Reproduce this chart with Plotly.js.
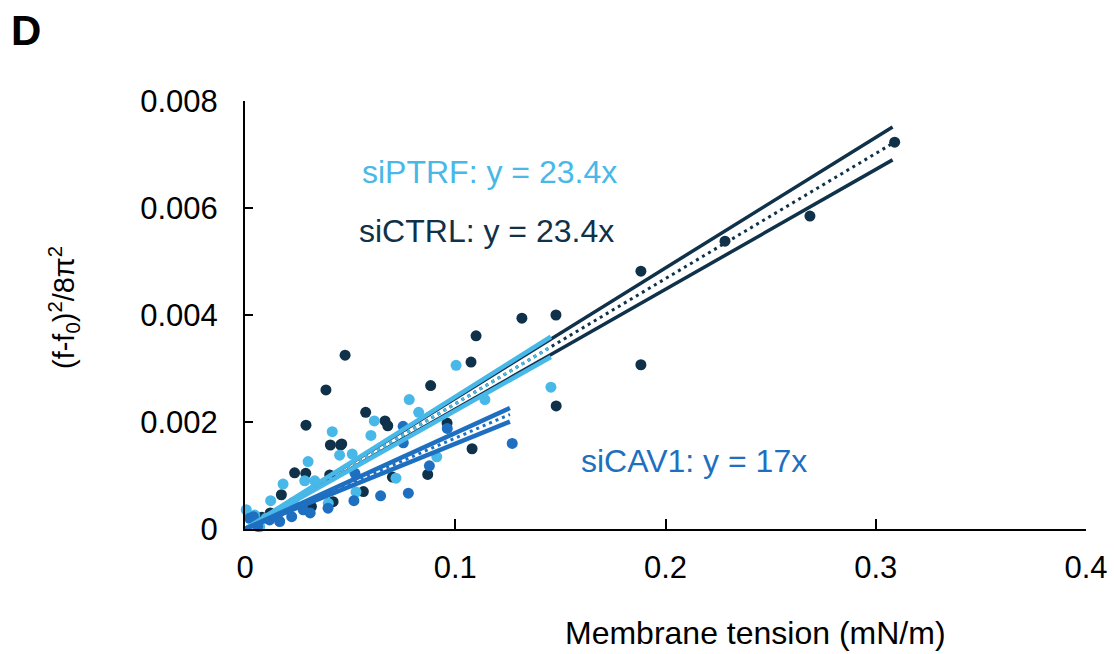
<!DOCTYPE html>
<html>
<head>
<meta charset="utf-8">
<script src="https://cdn.plot.ly/plotly-3.0.1.min.js"></script>
<style>html,body{margin:0;padding:0;background:#fff}#chart{width:1114px;height:654px}</style>
</head>
<body>
<div id="chart"></div>
<script>
// ---- Data ----
// siCTRL (dark navy)
const ctrlX = [0.309, 0.2687, 0.2283, 0.1883, 0.1883, 0.1479, 0.1317, 0.1099, 0.1075, 0.148, 0.108,
  0.0476, 0.0385, 0.0290, 0.0961, 0.0883, 0.0574, 0.0666, 0.0679, 0.0460, 0.0406, 0.0455,
  0.0869, 0.0701, 0.0563, 0.0236, 0.0289, 0.0173, 0.0403, 0.0419, 0.0316, 0.0080, 0.0120, 0.0050];
const ctrlY = [0.00723, 0.00585, 0.00538, 0.00482, 0.00307, 0.00400, 0.00394, 0.00361, 0.00312, 0.00230, 0.00150,
  0.00325, 0.00260, 0.00194, 0.00198, 0.00268, 0.00218, 0.00202, 0.00193, 0.00159, 0.00157, 0.00157,
  0.00102, 0.00097, 0.00070, 0.00105, 0.00104, 0.00064, 0.00101, 0.00051, 0.00042, 0.00022, 0.00030, 0.00012];
// siPTRF (light blue)
const ptrfX = [0.1455, 0.1004, 0.1141, 0.0781, 0.0826, 0.0615, 0.0599, 0.0510, 0.0912, 0.0718, 0.0528,
  0.0415, 0.0450, 0.0300, 0.0284, 0.0332, 0.0181, 0.0122, 0.0006, 0.0070, 0.0046, 0.0396, 0.0230, 0.0100];
const ptrfY = [0.00265, 0.00306, 0.00242, 0.00242, 0.00218, 0.00202, 0.00175, 0.00140, 0.00135, 0.00095, 0.00069,
  0.00182, 0.00138, 0.00126, 0.00090, 0.00090, 0.00084, 0.00053, 0.00036, 0.00004, 0.00026, 0.00048, 0.00050, 0.00020];
// siCAV1 (medium blue)
const cavX = [0.1271, 0.0962, 0.0753, 0.0752, 0.0877, 0.0777, 0.0645, 0.0518, 0.0523, 0.0395, 0.0277,
  0.0222, 0.0165, 0.0117, 0.0040, 0.0022, 0.0310, 0.0160, 0.0060];
const cavY = [0.00160, 0.00188, 0.00161, 0.00192, 0.00118, 0.00067, 0.00062, 0.00053, 0.00104, 0.00039, 0.00036,
  0.00023, 0.00014, 0.00017, 0.00023, 0.00020, 0.00030, 0.00030, 0.00005];

// Trend lines through the origin: x extent, slopes [upper, fit, lower]
const ctrlLineX = [0, 0.308];
const ctrlSlopes = [0.0244, 0.0234, 0.0224];
const ptrfLineX = [0, 0.1455];
const ptrfSlopes = [0.0247, 0.0234, 0.0221];
const cavLineX = [0, 0.126];
const cavSlopes = [0.01795, 0.0170, 0.01592];

const xTicks = [0, 0.1, 0.2, 0.3, 0.4];
const xTickText = ['0', '0.1', '0.2', '0.3', '0.4'];
const yTicks = [0, 0.002, 0.004, 0.006, 0.008];
const yTickText = ['0', '0.002', '0.004', '0.006', '0.008'];

const labels = ['siPTRF: y = 23.4x', 'siCTRL: y = 23.4x', 'siCAV1: y = 17x'];

// ---- Styling ----
const NAVY = '#0f3149';
const LIGHT = '#48b8e8';
const MID = '#1f6fc1';
const FONT = 'Liberation Sans, Arial, sans-serif';

function pts(x, y, c) {
  return {x: x, y: y, type: 'scatter', mode: 'markers', hoverinfo: 'skip',
    marker: {color: c, size: 11, line: {width: 0}}, showlegend: false, cliponaxis: false};
}
function lines(lx, slopes, c, w) {
  return slopes.map((s, i) => ({
    x: lx, y: lx.map(v => v * s), type: 'scatter', mode: 'lines', hoverinfo: 'skip', showlegend: false,
    line: {color: c, width: i === 1 ? 3 : w, dash: i === 1 ? '3px,4px' : 'solid'}
  }));
}

const data = [
  pts(ctrlX, ctrlY, NAVY),
  pts(ptrfX, ptrfY, LIGHT),
  pts(cavX, cavY, MID),
  ...lines(ctrlLineX, ctrlSlopes, NAVY, 3.5),
  ...lines(ptrfLineX, ptrfSlopes, LIGHT, 4.5),
  ...lines(cavLineX, cavSlopes, MID, 4.5)
];

const layout = {
  width: 1114, height: 654,
  margin: {l: 245, r: 28, t: 101, b: 125},
  paper_bgcolor: '#fff', plot_bgcolor: '#fff',
  font: {family: FONT, color: '#000', size: 32},
  showlegend: false,
  xaxis: {
    range: [0, 0.4], tickvals: xTicks, ticktext: xTickText,
    ticks: 'inside', ticklen: 10, tickwidth: 2, tickcolor: '#000',
    showline: true, linecolor: '#000', linewidth: 2, showgrid: false, zeroline: false,
    tickfont: {family: FONT, size: 31, color: '#000'}, ticklabelstandoff: 10
  },
  yaxis: {
    range: [0, 0.008], tickvals: yTicks, ticktext: yTickText,
    ticks: 'inside', ticklen: 8, tickwidth: 2, tickcolor: '#000',
    showline: true, linecolor: '#000', linewidth: 2, showgrid: false, zeroline: false,
    tickfont: {family: FONT, size: 31, color: '#000'}, ticklabelstandoff: 19
  },
  annotations: [
    {text: '<b>D</b>', xref: 'paper', yref: 'paper', x: -(245-9)/841, y: 1 + (101-30)/428, xanchor: 'left', yanchor: 'middle',
      showarrow: false, font: {family: FONT, size: 42, color: '#000'}},
    {text: 'Membrane tension (mN/m)', xref: 'paper', yref: 'paper', x: (755-245)/841, y: -(633-529)/428,
      xanchor: 'center', yanchor: 'middle', showarrow: false, font: {family: FONT, size: 32, color: '#000'}},
    {text: '(f-f<sub>0</sub>)<sup>2</sup>/8π<sup>2</sup>', xref: 'paper', yref: 'paper', x: -(245-64)/841, y: (529-308)/428,
      xanchor: 'center', yanchor: 'middle', textangle: -90, showarrow: false, font: {family: FONT, size: 29, color: '#000'}},
    {text: labels[0], x: 0.0545, y: 0.00667, xanchor: 'left', yanchor: 'middle', showarrow: false,
      font: {family: FONT, size: 32, color: LIGHT}},
    {text: labels[1], x: 0.0535, y: 0.00557, xanchor: 'left', yanchor: 'middle', showarrow: false,
      font: {family: FONT, size: 32, color: NAVY}},
    {text: labels[2], x: 0.1590, y: 0.00127, xanchor: 'left', yanchor: 'middle', showarrow: false,
      font: {family: FONT, size: 32, color: MID}}
  ]
};

Plotly.newPlot('chart', data, layout, {displayModeBar: false, staticPlot: true});
</script>
</body>
</html>
